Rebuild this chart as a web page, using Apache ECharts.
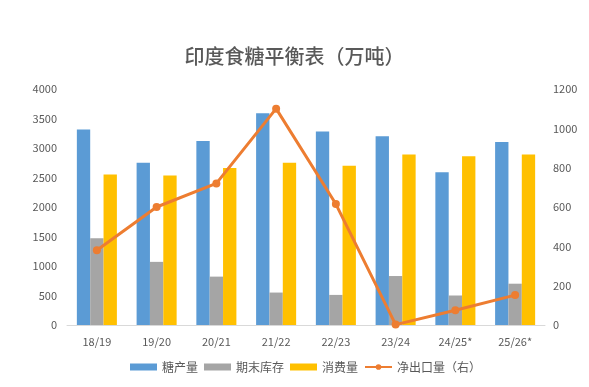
<!DOCTYPE html>
<html><head><meta charset="utf-8">
<script src="https://cdn.jsdelivr.net/npm/echarts@6/dist/echarts.min.js"></script>
<style>html,body{margin:0;padding:0;background:#fff}#c{width:589px;height:387px}</style>
</head><body><div id="c"></div>
<script>
const categories = ['18/19','19/20','20/21','21/22','22/23','23/24','24/25*','25/26*'];
const production = [3315, 2750, 3120, 3590, 3280, 3200, 2590, 3100];
const endStock = [1470, 1070, 820, 550, 510, 830, 500, 700];
const consumption = [2550, 2535, 2660, 2750, 2700, 2890, 2860, 2890];
const netExport = [380, 600, 720, 1100, 615, 2, 75, 152];
const leftTicks = [0, 4000, 500];
const rightTicks = [0, 1200, 200];

const fontCN = '"Noto Sans CJK SC", "Noto Sans", sans-serif';
const labelColor = '#595959';
const chart = echarts.init(document.getElementById('c'));
chart.setOption({
  animation: false,
  title: {
    text: '印度食糖平衡表（万吨）', left: 'center', top: 41,
    textStyle: { fontFamily: fontCN, fontSize: 20, fontWeight: 500, color: labelColor }
  },
  legend: {
    bottom: 9, left: 125, itemGap: 6, itemWidth: 27, itemHeight: 7,
    textStyle: { fontFamily: fontCN, fontSize: 12, color: labelColor },
    data: [
      { name: '糖产量', icon: 'rect' },
      { name: '期末库存', icon: 'rect' },
      { name: '消费量', icon: 'rect' },
      { name: '净出口量（右）' }
    ]
  },
  grid: { left: 67, right: 44, top: 89, bottom: 62 },
  xAxis: {
    type: 'category', data: categories,
    axisLine: { lineStyle: { color: '#D9D9D9' } },
    axisTick: { show: false },
    axisLabel: { color: labelColor, fontFamily: fontCN, fontSize: 11, margin: 11 }
  },
  yAxis: [
    { type: 'value', min: leftTicks[0], max: leftTicks[1], interval: leftTicks[2],
      splitLine: { show: false }, axisLine: { show: false }, axisTick: { show: false },
      axisLabel: { color: labelColor, fontFamily: fontCN, fontSize: 11, margin: 10, formatter: v => String(v) } },
    { type: 'value', min: rightTicks[0], max: rightTicks[1], interval: rightTicks[2],
      splitLine: { show: false }, axisLine: { show: false }, axisTick: { show: false },
      axisLabel: { color: labelColor, fontFamily: fontCN, fontSize: 11, margin: 8, formatter: v => String(v) } }
  ],
  series: [
    { name: '糖产量', type: 'bar', data: production, barGap: '0%', barCategoryGap: '33%',
      itemStyle: { color: '#5B9BD5' } },
    { name: '期末库存', type: 'bar', data: endStock,
      itemStyle: { color: '#A5A5A5' } },
    { name: '消费量', type: 'bar', data: consumption,
      itemStyle: { color: '#FFC000' } },
    { name: '净出口量（右）', type: 'line', yAxisIndex: 1, data: netExport,
      symbol: 'circle', symbolSize: 8,
      lineStyle: { color: '#ED7D31', width: 3 }, itemStyle: { color: '#ED7D31' } }
  ]
});
</script></body></html>
